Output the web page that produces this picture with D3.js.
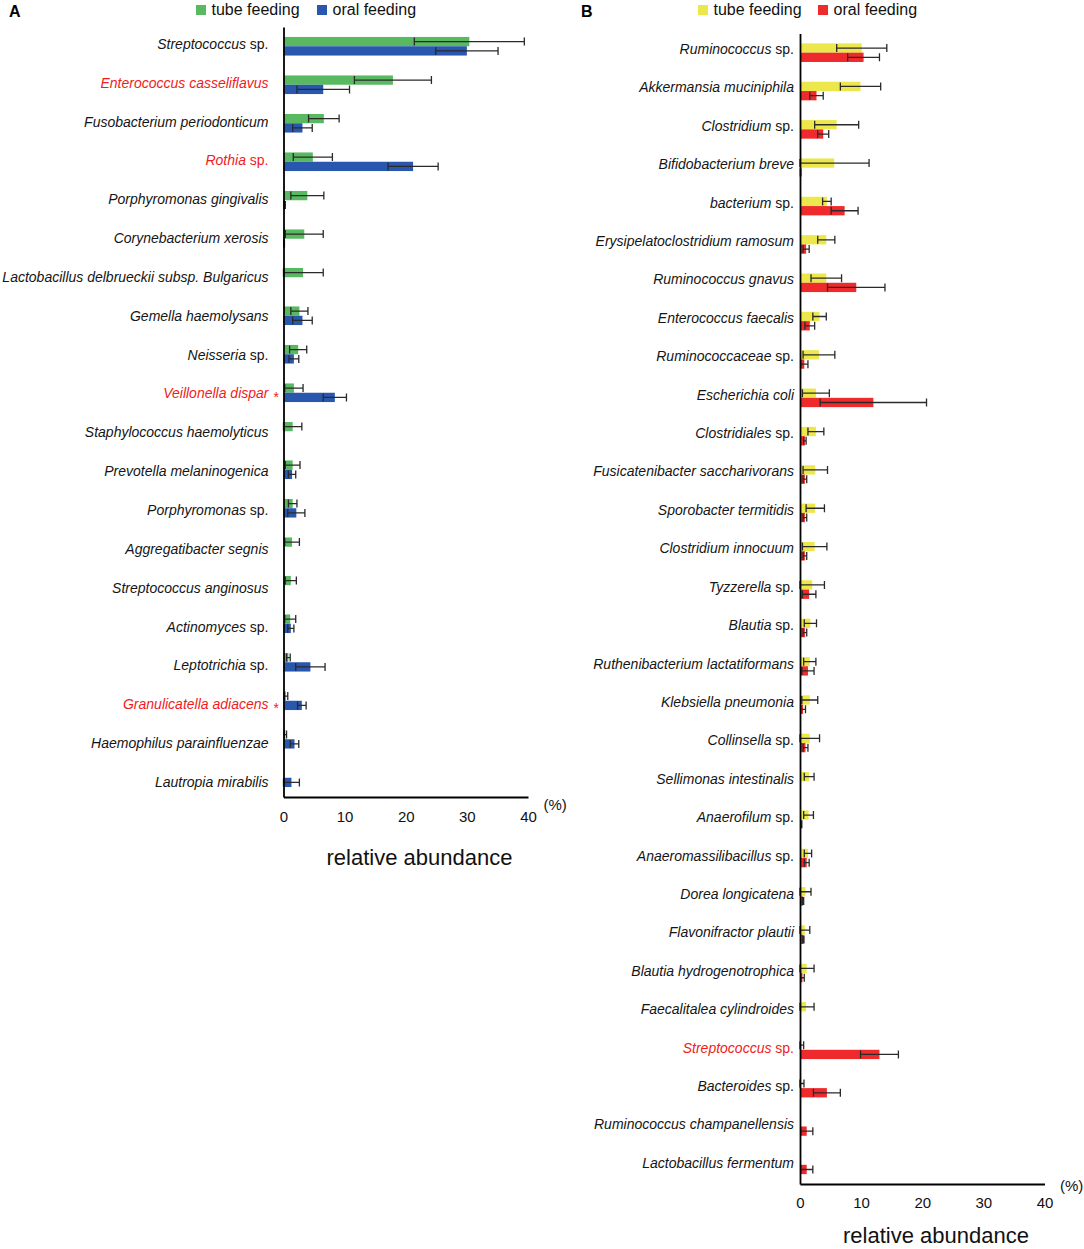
<!DOCTYPE html>
<html>
<head>
<meta charset="utf-8">
<script src="https://cdn.jsdelivr.net/npm/d3@7"></script>
<style>
  body { margin: 0; background: #fff; }
  svg { display: block; font-family: "Liberation Sans", Arial, sans-serif; }
  text { white-space: pre; }
</style>
</head>
<body>
<div class="chart"></div>
<script>
// panel A - oral swab species
var speciesA = [
  'Streptococcus sp.', 'Enterococcus casseliflavus', 'Fusobacterium periodonticum', 'Rothia sp.',
  'Porphyromonas gingivalis', 'Corynebacterium xerosis', 'Lactobacillus delbrueckii subsp. Bulgaricus',
  'Gemella haemolysans', 'Neisseria sp.', 'Veillonella dispar', 'Staphylococcus haemolyticus',
  'Prevotella melaninogenica', 'Porphyromonas sp.', 'Aggregatibacter segnis', 'Streptococcus anginosus',
  'Actinomyces sp.', 'Leptotrichia sp.', 'Granulicatella adiacens', 'Haemophilus parainfluenzae',
  'Lautropia mirabilis'
];
var tubeA    = [30.4, 17.9, 6.6, 4.8, 3.9, 3.4, 3.2, 2.6, 2.4, 1.7, 1.5, 1.5, 1.5, 1.4, 1.2, 1.1, 0.8, 0.4, 0.3, 0];
var tubeErrA = [9.0, 6.3, 2.5, 3.2, 2.7, 3.1, 3.3, 1.4, 1.4, 1.5, 1.5, 1.2, 0.7, 1.2, 0.9, 0.9, 0.3, 0.3, 0.2, 0];
var oralA    = [30.0, 6.5, 3.1, 21.2, 0.2, 0.1, 0, 3.1, 1.7, 8.4, 0, 1.4, 2.1, 0, 0, 1.2, 4.4, 3.0, 1.8, 1.3];
var oralErrA = [5.1, 4.3, 1.6, 4.1, 0.1, 0.05, 0, 1.6, 0.8, 1.9, 0, 0.6, 1.4, 0, 0, 0.5, 2.4, 0.7, 0.7, 1.3];
var redA  = ['Enterococcus casseliflavus', 'Rothia sp.', 'Veillonella dispar', 'Granulicatella adiacens'];
var starA = ['Veillonella dispar', 'Granulicatella adiacens'];

// panel B - stool species
var speciesB = [
  'Ruminococcus sp.', 'Akkermansia muciniphila', 'Clostridium sp.', 'Bifidobacterium breve',
  'bacterium sp.', 'Erysipelatoclostridium ramosum', 'Ruminococcus gnavus', 'Enterococcus faecalis',
  'Ruminococcaceae sp.', 'Escherichia coli', 'Clostridiales sp.', 'Fusicatenibacter saccharivorans',
  'Sporobacter termitidis', 'Clostridium innocuum', 'Tyzzerella sp.', 'Blautia sp.',
  'Ruthenibacterium lactatiformans', 'Klebsiella pneumonia', 'Collinsella sp.', 'Sellimonas intestinalis',
  'Anaerofilum sp.', 'Anaeromassilibacillus sp.', 'Dorea longicatena', 'Flavonifractor plautii',
  'Blautia hydrogenotrophica', 'Faecalitalea cylindroides', 'Streptococcus sp.', 'Bacteroides sp.',
  'Ruminococcus champanellensis', 'Lactobacillus fermentum'
];
var tubeB    = [10.1, 9.9, 6.0, 5.6, 4.4, 4.3, 4.3, 3.2, 3.1, 2.6, 2.6, 2.5, 2.5, 2.4, 2.0, 1.7, 1.6, 1.6, 1.6, 1.5, 1.4, 1.3, 0.9, 0.8, 1.1, 1.0, 0.2, 0.15, 0, 0];
var tubeErrB = [4.1, 3.3, 3.6, 5.7, 0.7, 1.4, 2.5, 1.1, 2.6, 2.2, 1.3, 2.0, 1.5, 2.0, 2.0, 1.0, 1.0, 1.3, 1.6, 0.8, 0.8, 0.6, 0.9, 0.8, 1.2, 1.3, 0.4, 0.5, 0, 0];
var oralB    = [10.4, 2.7, 3.8, 0.1, 7.3, 1.0, 9.2, 1.6, 0.7, 12.0, 0.8, 0.8, 0.8, 0.8, 1.5, 0.8, 1.3, 0.5, 0.9, 0.05, 0.2, 1.1, 0.5, 0.55, 0.4, 0, 13.0, 4.4, 1.1, 1.1];
var oralErrB = [2.6, 1.1, 0.9, 0.05, 2.2, 0.5, 4.7, 0.8, 0.6, 8.7, 0.2, 0.3, 0.3, 0.3, 1.1, 0.3, 1.0, 0.4, 0.4, 0, 0.1, 0.4, 0.1, 0.1, 0.3, 0, 3.1, 2.2, 1.0, 1.0];
var redB  = ['Streptococcus sp.'];
var starB = [];

var groups = ['tube feeding', 'oral feeding'];
var xTicks = [0, 10, 20, 30, 40];

var svg = d3.select('.chart')
  .append('svg')
    .attr('width', 1084)
    .attr('height', 1249);

function drawPanel(p) {
  var g = svg.append('g');
  var barH = 9.3;

  var x = d3.scaleLinear().domain([0, 40]).range([p.x0, p.x0 + 244.5]);
  var y = d3.scaleBand().domain(p.names).range([p.top, p.bottom]);
  var yLab = d3.scalePoint().domain(p.names).range(p.labelRange);

  var series = [
    {vals: p.tube, errs: p.tubeErr, color: p.colors[0], off: -barH},
    {vals: p.oral, errs: p.oralErr, color: p.colors[1], off: 0}
  ];

  series.forEach(function (s, i) {
    var rows = p.names.map((n, j) => ({name: n, v: s.vals[j], e: s.errs[j]}));
    var cy = d => y(d.name) + y.bandwidth() / 2 + s.off + barH / 2;

    g.selectAll('rect.s' + i)
      .data(rows)
      .join('rect')
        .attr('class', 's' + i)
        .attr('x', x(0))
        .attr('y', d => y(d.name) + y.bandwidth() / 2 + s.off)
        .attr('width', d => x(d.v) - x(0))
        .attr('height', barH)
        .attr('fill', s.color);

    // error bars with caps
    g.selectAll('path.e' + i)
      .data(rows.filter(d => d.v > 0 && d.e > 0))
      .join('path')
        .attr('class', 'e' + i)
        .attr('d', function (d) {
          var lo = x(Math.max(0, d.v - d.e)), hi = x(d.v + d.e), c = cy(d);
          return `M${lo},${c - 4}V${c + 4}M${lo},${c}H${hi}M${hi},${c - 4}V${c + 4}`;
        })
        .attr('fill', 'none')
        .attr('stroke', '#2a2a2a')
        .attr('stroke-width', 1.3);
  });

  // species labels, " sp." stays upright
  var lab = g.selectAll('text.lab')
    .data(p.names)
    .join('text')
      .attr('class', 'lab')
      .attr('x', p.labelX)
      .attr('y', d => yLab(d))
      .attr('dy', '0.35em')
      .attr('text-anchor', 'end')
      .attr('font-size', 14)
      .attr('fill', d => p.red.includes(d) ? '#f01c1c' : '#151515');
  lab.each(function (d) {
    var t = d3.select(this);
    if (d.endsWith(' sp.')) {
      t.append('tspan').attr('font-style', 'italic').text(d.slice(0, -4));
      t.append('tspan').text(' sp.');
    } else {
      t.append('tspan').attr('font-style', 'italic').text(d);
    }
  });

  g.selectAll('text.star')
    .data(p.stars)
    .join('text')
      .attr('class', 'star')
      .attr('x', p.labelX + 5)
      .attr('y', d => yLab(d))
      .attr('dy', '0.6em')
      .attr('font-size', 14)
      .attr('fill', '#f01c1c')
      .text('*');

  // axes
  var xAxis = g.append('g')
    .attr('transform', `translate(0, ${p.bottom})`)
    .call(d3.axisBottom(x).tickValues(xTicks).tickSize(0).tickPadding(p.tickPad));
  xAxis.selectAll('text').attr('font-size', 15).attr('fill', '#111')
    .attr('font-family', '"Liberation Sans", Arial, sans-serif');

  var yAxis = g.append('g')
    .attr('transform', `translate(${x(0)}, 0)`)
    .call(d3.axisLeft(y).tickValues([]).tickSize(0));

  g.selectAll('.domain').attr('stroke', '#000').attr('stroke-width', 1.8);

  g.append('text')
    .attr('x', p.x0 + 244.5 + 15.5)
    .attr('y', p.pctY)
    .attr('dy', '0.35em')
    .attr('font-size', 15)
    .attr('fill', '#111')
    .text('(%)');

  g.append('text')
    .attr('x', p.x0 + 122 + 14)
    .attr('y', p.titleY)
    .attr('dy', '0.35em')
    .attr('text-anchor', 'middle')
    .attr('font-size', 22)
    .attr('fill', '#111')
    .text('relative abundance');

  // panel letter
  g.append('text')
    .attr('x', p.letterX)
    .attr('y', 16.5)
    .attr('font-size', 16)
    .attr('font-weight', 'bold')
    .text(p.letter);

  // legend
  var leg = g.selectAll('g.leg')
    .data(groups)
    .join('g')
      .attr('class', 'leg')
      .attr('transform', (d, i) => `translate(${p.legendX[i]}, 0)`);
  leg.append('rect')
    .attr('x', 0).attr('y', 5)
    .attr('width', 10).attr('height', 10)
    .attr('fill', (d, i) => p.colors[i]);
  leg.append('text')
    .attr('x', 15.5).attr('y', 15)
    .attr('font-size', 16)
    .attr('fill', '#111')
    .text(d => d);
}

drawPanel({
  names: speciesA, tube: tubeA, tubeErr: tubeErrA, oral: oralA, oralErr: oralErrA,
  red: redA, stars: starA, colors: ['#58b960', '#2a57ae'],
  x0: 283.5, top: 27, bottom: 797, labelRange: [44, 782], labelX: 268.5,
  tickPad: 14.5, pctY: 805, titleY: 857, letter: 'A', letterX: 9, legendX: [196, 317]
});

drawPanel({
  names: speciesB, tube: tubeB, tubeErr: tubeErrB, oral: oralB, oralErr: oralErrB,
  red: redB, stars: starB, colors: ['#ece84c', '#ee2a2c'],
  x0: 800, top: 33.5, bottom: 1184, labelRange: [49, 1163], labelX: 794,
  tickPad: 13.5, pctY: 1186, titleY: 1235.5, letter: 'B', letterX: 581, legendX: [698, 818]
});
</script>
</body>
</html>
